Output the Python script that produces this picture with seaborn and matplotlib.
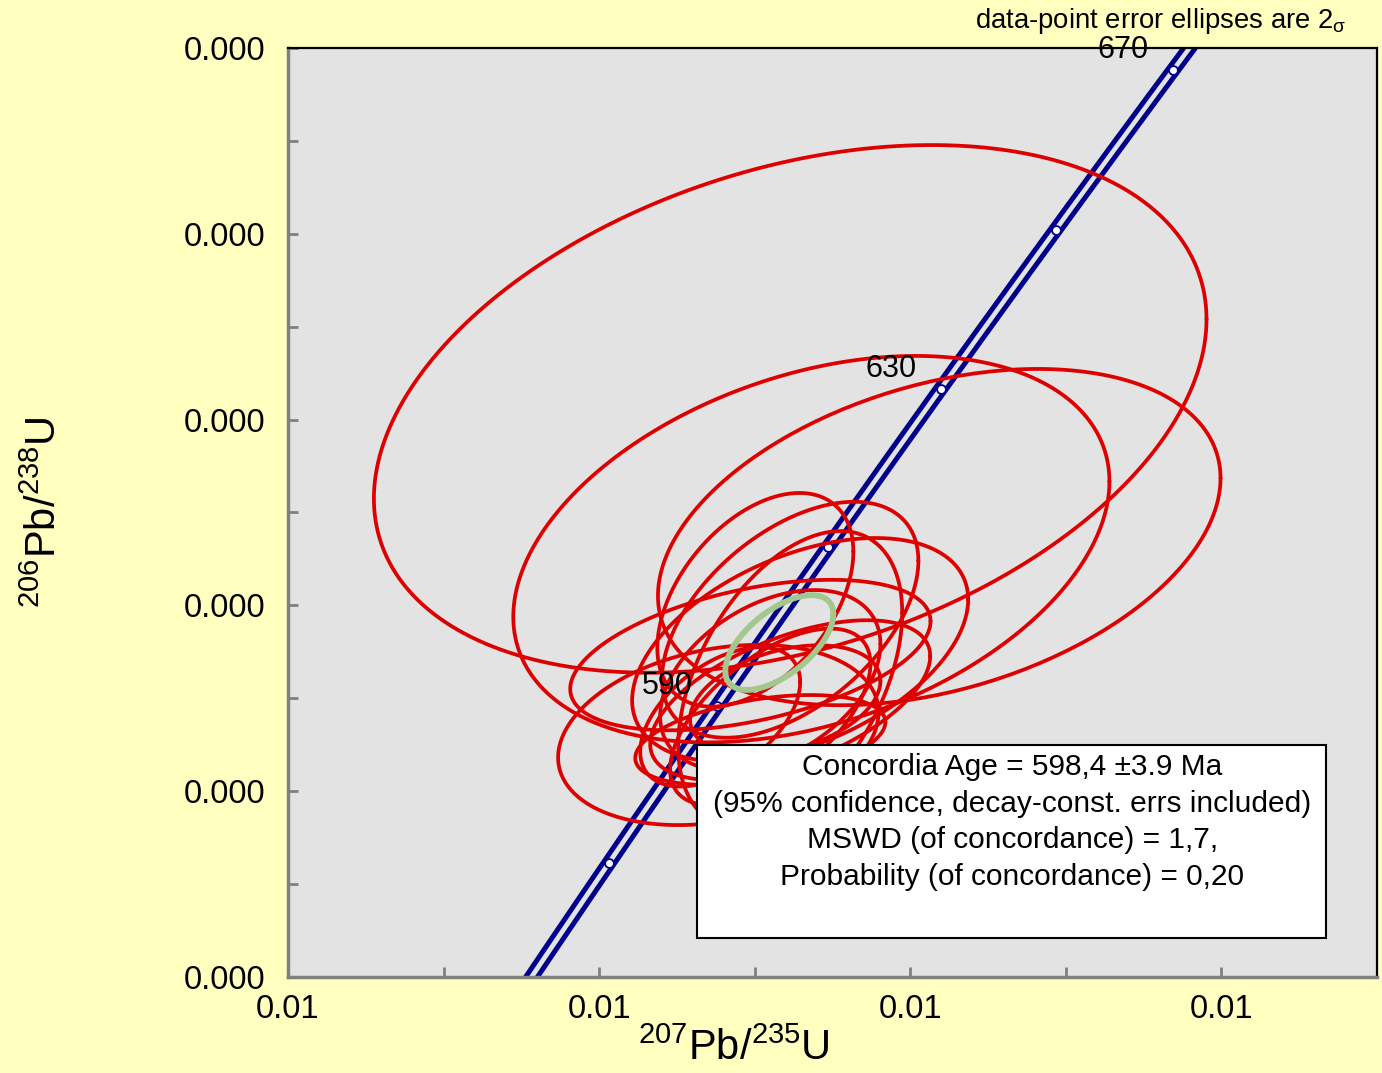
import numpy as np
import seaborn as sns
import matplotlib
matplotlib.use("Agg")
from matplotlib import pyplot as plt
from matplotlib.patches import Rectangle

# decay constants (1/yr)
LAMBDA_238 = 1.55125e-10
LAMBDA_235 = 9.8485e-10

# concordia age markers (Ma) and which of them get a label
tick_ages = [570, 590, 610, 630, 650, 670]
label_ages = [590, 630, 670]
band_halfwidth = 0.0019  # decay-constant error envelope in 207Pb/235U

# data-point error ellipses (2 sigma): centre, half-extent, correlation
pb207_u235 = [0.8114, 0.8182, 0.8593, 0.7883, 0.7986, 0.8002, 0.8114, 0.8114,
              0.8146, 0.8050, 0.8114, 0.8050, 0.8018, 0.7889, 0.8098]
err_207 = [0.1338, 0.0958, 0.0904, 0.0515, 0.0579, 0.0315, 0.0412, 0.0360,
           0.0540, 0.0354, 0.0450, 0.0322, 0.0402, 0.0257, 0.0306]
pb206_u238 = [0.10223, 0.09921, 0.09947, 0.09521, 0.09693, 0.09812, 0.09769, 0.09640,
              0.09704, 0.09639, 0.09596, 0.09560, 0.09510, 0.09560, 0.09596]
err_206 = [0.00568, 0.00416, 0.00362, 0.00194, 0.00162, 0.00230, 0.00254, 0.00320,
           0.00241, 0.00194, 0.00172, 0.00190, 0.00097, 0.00150, 0.00118]
rho = [0.34, 0.35, 0.35, 0.25, 0.45, 0.45, 0.5, 0.45,
       0.45, 0.4, 0.55, 0.6, 0.4, 0.5, 0.35]

# concordia age ellipse
age_x, age_sx = 0.8079, 0.01736
age_y, age_sy = 0.09720, 0.00102
age_rho = 0.6

x_ticks = [0.65, 0.75, 0.85, 0.95]
x_ticklabels = ["0.01", "0.01", "0.01", "0.01"]
y_ticks = [0.090, 0.094, 0.098, 0.102, 0.106, 0.110]
y_ticklabels = ["0.000"] * 6

result_lines = ["Concordia Age = 598,4 \u00b13.9 Ma",
                "(95% confidence, decay-const. errs included)",
                "MSWD (of concordance) = 1,7,",
                "Probability (of concordance) = 0,20"]

sns.set_style("ticks")
plt.rcParams['font.family'] = ['Liberation Sans', 'DejaVu Sans']
plt.rcParams['mathtext.fontset'] = 'custom'
plt.rcParams['mathtext.rm'] = 'Liberation Sans'
plt.rcParams['mathtext.it'] = 'Liberation Sans'
plt.rcParams['mathtext.default'] = 'regular'
plt.rcParams['text.color'] = 'black'
plt.rcParams['axes.labelcolor'] = 'black'
plt.rcParams['xtick.labelcolor'] = 'black'
plt.rcParams['ytick.labelcolor'] = 'black'

fig = plt.figure(figsize=(13.82, 10.73), dpi=100, facecolor='#FFFFC0')
ax = fig.add_axes([0.2084, 0.0895, 0.7880, 0.8658])
ax.set_facecolor('#E3E3E3')


def ellipse_xy(cx, sx, cy, sy, r, n=240):
    t = np.linspace(0, 2 * np.pi, n)
    xs = cx + sx * np.cos(t)
    ys = cy + sy * (r * np.cos(t) + np.sqrt(1 - r ** 2) * np.sin(t))
    return xs, ys


# concordia curve with its error band
ages = np.linspace(520, 700, 300) * 1e6
conc_x = np.exp(LAMBDA_235 * ages) - 1
conc_y = np.exp(LAMBDA_238 * ages) - 1
for off in (-band_halfwidth, band_halfwidth):
    sns.lineplot(x=conc_x + off, y=conc_y, sort=False, estimator=None,
                 color='#00008C', lw=3.6, ax=ax, zorder=2)

tk = np.array(tick_ages) * 1e6
sns.scatterplot(x=np.exp(LAMBDA_235 * tk) - 1, y=np.exp(LAMBDA_238 * tk) - 1,
                marker='o', s=40, color='white', edgecolor='#00008C',
                linewidth=1.3, ax=ax, zorder=3)

for a in label_ages:
    lx = np.exp(LAMBDA_235 * a * 1e6) - 1
    ly = np.exp(LAMBDA_238 * a * 1e6) - 1
    ax.annotate(str(a), (lx, ly), xytext=(-36, 14), textcoords='offset points',
                ha='center', va='center', fontsize=22, zorder=10,
                annotation_clip=False)

# data-point ellipses
for i in range(len(pb207_u235)):
    xs, ys = ellipse_xy(pb207_u235[i], err_207[i], pb206_u238[i], err_206[i], rho[i])
    sns.lineplot(x=xs, y=ys, sort=False, estimator=None, color='#DE0000',
                 lw=2.7, ax=ax, zorder=4)

xs, ys = ellipse_xy(age_x, age_sx, age_y, age_sy, age_rho)
sns.lineplot(x=xs, y=ys, sort=False, estimator=None, color='#A2C890',
             lw=4.2, ax=ax, zorder=5)

ax.set_xlim(0.65, 1.0)
ax.set_ylim(0.090, 0.110)
ax.set_xticks(x_ticks)
ax.set_xticklabels(x_ticklabels)
ax.set_yticks(y_ticks)
ax.set_yticklabels(y_ticklabels)
ax.set_xticks([0.70, 0.80, 0.90], minor=True)
ax.set_yticks([0.092, 0.096, 0.100, 0.104, 0.108], minor=True)
ax.tick_params(which='both', direction='in', length=7, width=2,
               color='#808080', labelsize=23.5, pad=12)
ax.tick_params(axis='y', pad=16)

for side in ('left', 'bottom'):
    ax.spines[side].set_color('#808080')
    ax.spines[side].set_linewidth(2.5)
for side in ('top', 'right'):
    ax.spines[side].set_color('black')
    ax.spines[side].set_linewidth(1.6)

ax.set_xlabel(r'$^{207}$Pb/$^{235}$U', fontsize=30)
ax.xaxis.set_label_coords(0.409, -0.056)
ax.set_ylabel(r'$^{206}$Pb/$^{238}$U', fontsize=30)
ax.yaxis.set_label_coords(-0.205, 0.5)

# results box
ax.add_patch(Rectangle((0.3756, 0.042), 0.578, 0.2077, transform=ax.transAxes,
                       facecolor='white', edgecolor='black', lw=1.5, zorder=8))
for k, line in enumerate(result_lines):
    ax.text(0.665, 0.2265 - k * 0.0398, line, transform=ax.transAxes,
            ha='center', va='center', fontsize=21.5, zorder=9)

fig.text(0.974, 0.980, r'data-point error ellipses are 2$_{\sigma}$',
         ha='right', va='center', fontsize=19.8)

fig.savefig('out.png', dpi=100, facecolor=fig.get_facecolor())
